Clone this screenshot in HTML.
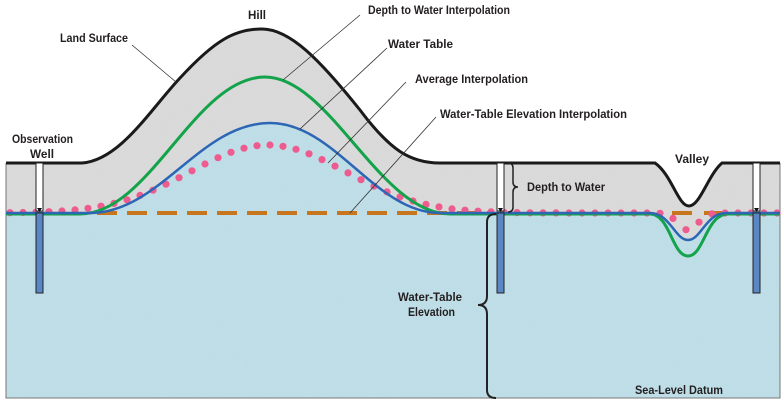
<!DOCTYPE html>
<html><head><meta charset="utf-8"><style>
html,body{margin:0;padding:0;background:#fff}
svg{display:block}
text{font-family:"Liberation Sans",sans-serif;font-weight:bold;font-size:12px;fill:#231f20}
</style></head><body>
<svg id="s" width="784" height="405" viewBox="0 0 784 405" xmlns="http://www.w3.org/2000/svg">
<defs>
<filter id="n" x="0" y="0" width="100%" height="100%">
<feTurbulence type="fractalNoise" baseFrequency="0.9" numOctaves="2" seed="3"/>
<feColorMatrix values="0 0 0 0 0.5  0 0 0 0 0.5  0 0 0 0 0.5  0 0 0 0.25 0"/>
<feComposite in2="SourceGraphic" operator="in"/>
</filter>
<clipPath id="gc"><path d="M6,163 L82,163 C120,160 150,110 180,78 C215,40 235,29 262,29 C290,29 320,60 360,110 C390,150 410,163 440,163 L655,163 C672,175 678,206 689,206 C700,206 708,175 722,163 L780,163 L780,398 L6,398 Z"/></clipPath>
</defs>
<path d="M6,163 L82,163 C120,160 150,110 180,78 C215,40 235,29 262,29 C290,29 320,60 360,110 C390,150 410,163 440,163 L655,163 C672,175 678,206 689,206 C700,206 708,175 722,163 L780,163 L780,398 L6,398 Z" fill="#dcdcdc"/>
<path d="M6,213 L90,213 C160,213 200,123 270,123 C335,123 375,213 440,213 L650,213 C670,213 675,240 688,240 C701,240 706,213 726,213 L780,213 L780,398 L6,398 Z" fill="#bfe0ea"/>
<g clip-path="url(#gc)"><rect x="6" y="29" width="774" height="369" fill="#fff" filter="url(#n)" opacity="0.5" style="mix-blend-mode:multiply"/></g>
<path d="M6,163 L6,398 L780,398 L780,163" fill="none" stroke="#777" stroke-width="1"/>
<path d="M6,163 L82,163 C120,160 150,110 180,78 C215,40 235,29 262,29 C290,29 320,60 360,110 C390,150 410,163 440,163 L655,163 C672,175 678,206 689,206 C700,206 708,175 722,163 L780,163" fill="none" stroke="#1a1a1a" stroke-width="3"/>
<line x1="97" y1="213" x2="492" y2="213" stroke="#c8761e" stroke-width="4" stroke-dasharray="20,10"/>
<line x1="672" y1="213" x2="692" y2="213" stroke="#c8761e" stroke-width="4"/>
<line x1="704" y1="213" x2="722" y2="213" stroke="#c8761e" stroke-width="4"/>
<g id="dots" fill="#ee5c8f"></g>
<path d="M6,214 L80,214 C150,214 195,77 265,77 C330,77 380,214 450,214 L650,214 C670,214 672,256 688,256 C704,256 706,214 728,214 L780,214" fill="none" stroke="#13a34a" stroke-width="3"/>
<path d="M6,213 L90,213 C160,213 200,123 270,123 C335,123 375,213 440,213 L650,213 C670,213 675,240 688,240 C701,240 706,213 726,213 L780,213" fill="none" stroke="#2d66b4" stroke-width="2.5"/>
<g stroke="#222" stroke-width="1">
<rect x="36" y="163" width="7" height="48" fill="#fff"/><rect x="36" y="213" width="7" height="80" fill="#5a86c6"/>
<rect x="497" y="163" width="7" height="48" fill="#fff"/><rect x="497" y="213" width="7" height="80" fill="#5a86c6"/>
<rect x="753" y="163" width="7" height="48" fill="#fff"/><rect x="753" y="213" width="7" height="80" fill="#5a86c6"/>
</g>
<g fill="#111"><path d="M37,208 L42,208 L39.5,212Z"/><path d="M498,208 L503,208 L500.5,212Z"/><path d="M754,208 L759,208 L756.5,212Z"/></g>
<g stroke="#333" stroke-width="0.8">
<line x1="132" y1="45" x2="176" y2="82"/>
<line x1="360" y1="15" x2="283" y2="80"/>
<line x1="387" y1="48" x2="300" y2="129"/>
<line x1="406" y1="82" x2="328" y2="163"/>
<line x1="436" y1="117" x2="350" y2="213"/>
</g>
<path d="M508,163 Q513,163 513,168 L513,182 Q513,187 518,187 Q513,187 513,192 L513,207 Q513,212 508,212" fill="none" stroke="#222" stroke-width="1.5"/>
<path d="M496,214 Q487,214 487,222 L487,296 Q487,305 478,305 Q487,305 487,314 L487,390 Q487,398 496,398" fill="none" stroke="#222" stroke-width="2"/>
<g lengthAdjust="spacingAndGlyphs">
<text x="248" y="19" textLength="18" lengthAdjust="spacingAndGlyphs">Hill</text>
<text x="60" y="42" textLength="68" lengthAdjust="spacingAndGlyphs">Land Surface</text>
<text x="368" y="14" textLength="142" lengthAdjust="spacingAndGlyphs">Depth to Water Interpolation</text>
<text x="388" y="48" textLength="65" lengthAdjust="spacingAndGlyphs">Water Table</text>
<text x="415" y="83" textLength="113" lengthAdjust="spacingAndGlyphs">Average Interpolation</text>
<text x="440" y="118" textLength="187" lengthAdjust="spacingAndGlyphs">Water-Table Elevation Interpolation</text>
<text x="12" y="143" textLength="61" lengthAdjust="spacingAndGlyphs">Observation</text>
<text x="30" y="158" textLength="24" lengthAdjust="spacingAndGlyphs">Well</text>
<text x="675" y="163" textLength="34" lengthAdjust="spacingAndGlyphs">Valley</text>
<text x="527" y="191" textLength="78" lengthAdjust="spacingAndGlyphs">Depth to Water</text>
<text x="398" y="301" textLength="64" lengthAdjust="spacingAndGlyphs">Water-Table</text>
<text x="408" y="316" textLength="47" lengthAdjust="spacingAndGlyphs">Elevation</text>
<text x="635" y="394" textLength="88" lengthAdjust="spacingAndGlyphs">Sea-Level Datum</text>
</g>
</svg>
<script>
var g=document.getElementById('dots'),h='';
for(var x=10;x<=780;x+=13){
 var y=213-68*Math.exp(-Math.pow((x-268)/110,2));
 y+=17*Math.exp(-Math.pow((x-688)/14,2));
 h+='<circle cx="'+x+'" cy="'+y.toFixed(1)+'" r="3.6"/>';
}
g.innerHTML=h;
</script>
</body></html>
